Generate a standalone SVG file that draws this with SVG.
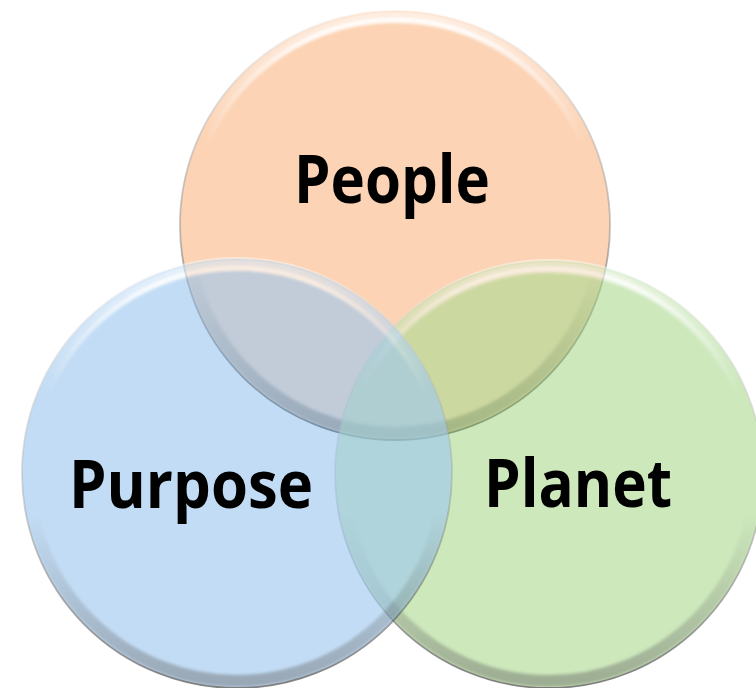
<svg xmlns="http://www.w3.org/2000/svg" width="756" height="688" viewBox="0 0 756 688">
  <style>
    .label { font-family: "Open Sans", "Liberation Sans", sans-serif; font-weight: 700; font-size: 66px; fill: #000; text-anchor: middle; }
    .rim { fill: none; stroke: url(#rimGrad); stroke-width: 12; filter: url(#soft); }
    .edge { fill: none; stroke: url(#edgeGrad); stroke-width: 1.8; }
    .hl { fill: none; stroke: url(#hlGrad); stroke-width: 4; stroke-linecap: round; filter: url(#soft); }
  </style>
  <defs>
    <linearGradient id="rimGrad" x1="0" y1="0" x2="0" y2="1">
      <stop offset="0" stop-color="#ffffff" stop-opacity="0.6"/>
      <stop offset="0.3" stop-color="#ffffff" stop-opacity="0"/>
      <stop offset="0.6" stop-color="#000000" stop-opacity="0"/>
      <stop offset="1" stop-color="#000000" stop-opacity="0.42"/>
    </linearGradient>
    <linearGradient id="edgeGrad" x1="0" y1="0" x2="0" y2="1">
      <stop offset="0" stop-color="#ffffff" stop-opacity="0.7"/>
      <stop offset="0.5" stop-color="#7f7f7f" stop-opacity="0.45"/>
      <stop offset="1" stop-color="#202020" stop-opacity="0.9"/>
    </linearGradient>
    <linearGradient id="hlGrad" x1="0" y1="0" x2="1" y2="0">
      <stop offset="0" stop-color="#ffffff" stop-opacity="0"/>
      <stop offset="0.3" stop-color="#ffffff" stop-opacity="0.95"/>
      <stop offset="0.7" stop-color="#ffffff" stop-opacity="0.95"/>
      <stop offset="1" stop-color="#ffffff" stop-opacity="0"/>
    </linearGradient>
    <filter id="soft" x="-10%" y="-10%" width="120%" height="120%">
      <feGaussianBlur stdDeviation="1.5"/>
    </filter>
  </defs>

  <g id="people">
    <g>
      <circle cx="395" cy="225" r="215" fill="#FCD3B4"/>
      <circle class="rim" cx="395" cy="225" r="208"/>
      <path class="hl" d="M 202.3 154.9 A 205 205 0 0 1 587.7 154.9"/>
      <circle class="edge" cx="395" cy="225" r="215"/>
    </g>
    <text class="label" x="392" y="203" textLength="196" lengthAdjust="spacingAndGlyphs">People</text>
  </g>

  <g id="planet">
    <g opacity="0.63">
      <circle cx="549" cy="474" r="214" fill="#B0DB95"/>
      <circle class="rim" cx="549" cy="474" r="207"/>
      <path class="hl" d="M 356.3 403.9 A 205 205 0 0 1 741.7 403.9"/>
      <circle class="edge" cx="549" cy="474" r="214"/>
    </g>
    <text class="label" x="578" y="507" textLength="188" lengthAdjust="spacingAndGlyphs">Planet</text>
  </g>

  <g id="purpose">
    <g opacity="0.62">
      <circle cx="237" cy="473" r="215" fill="#9EC8EF"/>
      <circle class="rim" cx="237" cy="473" r="208"/>
      <path class="hl" d="M 44.3 402.9 A 205 205 0 0 1 429.7 402.9"/>
      <circle class="edge" cx="237" cy="473" r="215"/>
    </g>
    <text class="label" x="191" y="508" textLength="244" lengthAdjust="spacingAndGlyphs">Purpose</text>
  </g>
</svg>
